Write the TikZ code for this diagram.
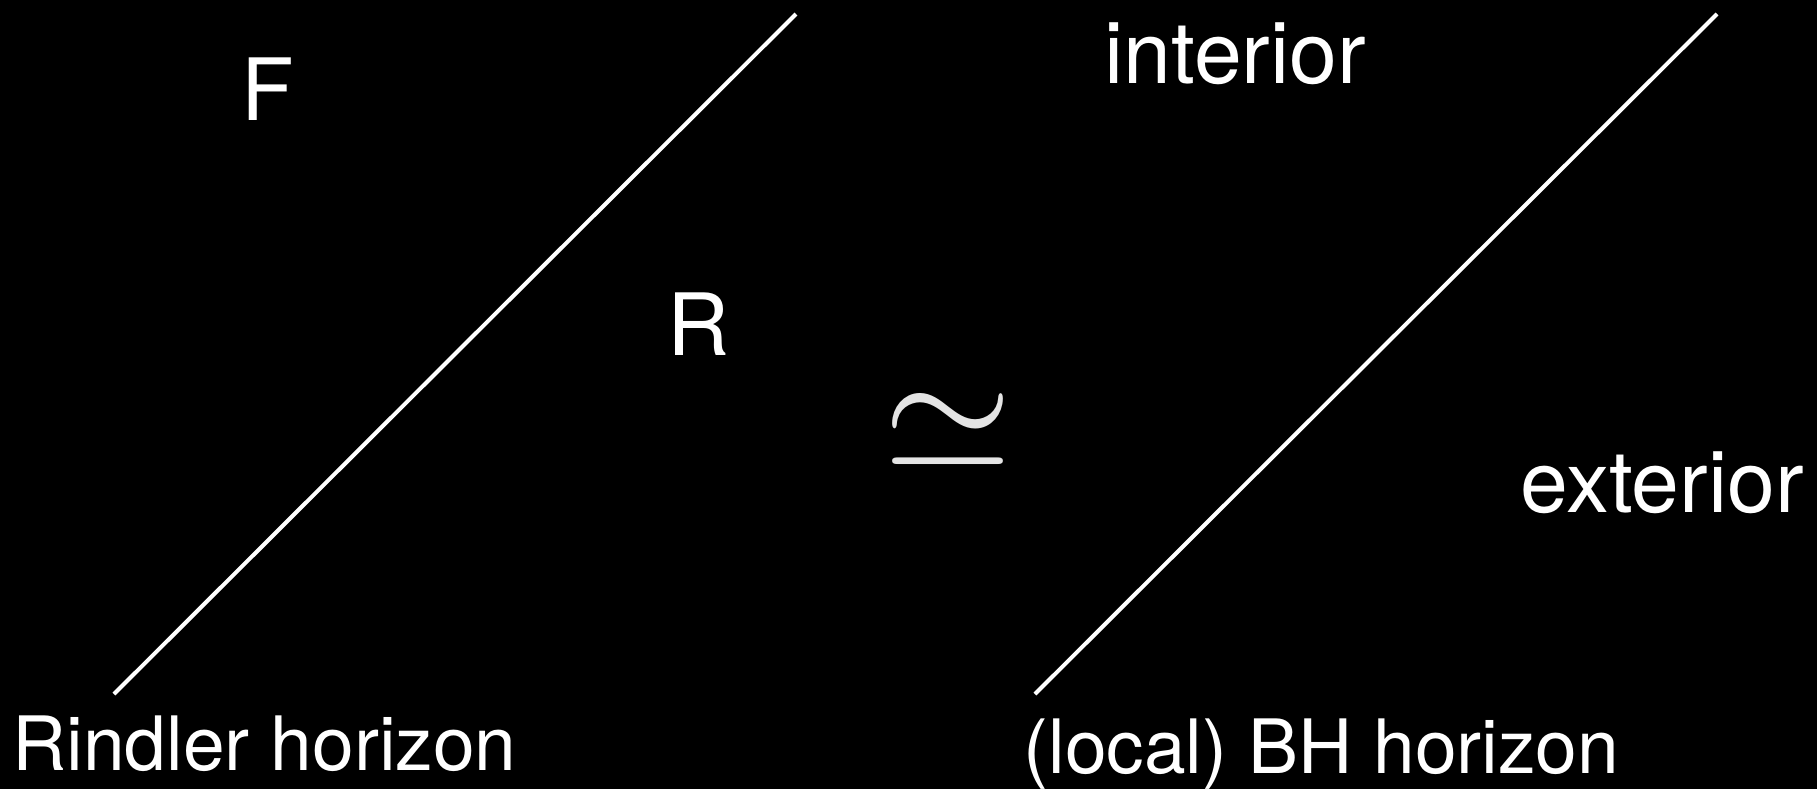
\documentclass[tikz,border=0pt]{standalone}
\usepackage{fontspec}
\setmainfont{TeX Gyre Heros}
\usepackage{xcolor}
\usepackage{tikz}
\usetikzlibrary{positioning}
\definecolor{simGray}{RGB}{228,228,228}

\begin{document}
\begin{tikzpicture}[
  x=0.5pt,y=-0.5pt,
  horizon/.style={draw=white,line width=2pt},
  region/.style={text=white,inner sep=0pt,anchor=base west,font=\fontsize{43}{50}\selectfont},
  caption/.style={text=white,inner sep=0pt,anchor=base west,font=\fontsize{37.5}{44}\selectfont}
]
\fill[black] (0,0) rectangle (1817,789);
\useasboundingbox (0,0) rectangle (1817,789);
% Rindler wedge
\coordinate (rb) at (114,694);
\coordinate (rt) at (796,14);
\draw[horizon] (rb) -- (rt);
\node[region] (F) at (241,120) {F};
\node[region] (R) at (667,355) {R};
\node[caption] (rindler) at (12,770) {Rindler horizon};
% equivalence
\node[text=simGray,inner sep=0pt] (sim) at (948,432) {\scalebox{8.3}{$\simeq$}};
% black hole side
\coordinate (bb) at (1035,694);
\coordinate (bt) at (1717,14);
\draw[horizon] (bb) -- (bt);
\node[region] (int) at (1104,83) {interior};
\node[region] (ext) at (1520,512) {exterior};
\node[caption] (bh) at (1023,773) {(local) BH horizon};
\end{tikzpicture}
\end{document}
